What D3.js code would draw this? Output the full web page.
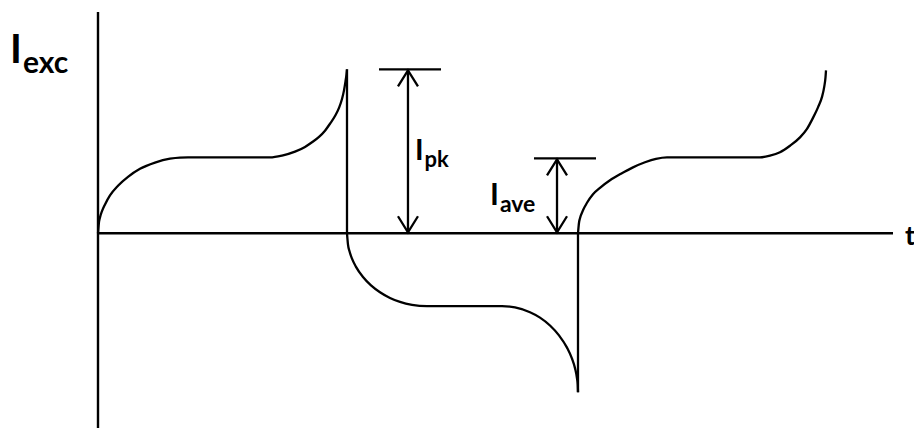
<!DOCTYPE html>
<html>
<head>
<meta charset="utf-8">
<script src="https://cdn.jsdelivr.net/npm/d3@7"></script>
<style>
  html, body { margin: 0; padding: 0; background: #fff; }
  svg { display: block; }
  text { font-family: Lato, "Open Sans", sans-serif; font-weight: bold; fill: #000; }
</style>
</head>
<body>
<div id="chart"></div>
<script>
// excitation current waveform (t in arbitrary units, I relative to peak)
const riseT = [0, 0.126, 0.252, 0.504, 0.882, 1.511, 2.519, 3.778, 5.29, 7.179, 9.068, 10.327, 11.335, 16.5, 21.662,
  23.174, 24.811, 26.071, 26.952, 27.834, 28.589, 29.219, 29.849, 30.353, 30.73, 30.982, 31.171, 31.297, 31.36];
const riseI = [0, 0.069, 0.097, 0.135, 0.176, 0.231, 0.29, 0.344, 0.393, 0.431, 0.455, 0.462, 0.463, 0.463, 0.463,
  0.474, 0.498, 0.527, 0.555, 0.588, 0.626, 0.668, 0.715, 0.765, 0.819, 0.872, 0.927, 0.97, 1.0];

const fallT = [31.36, 31.486, 31.675, 31.99, 32.494, 33.375, 34.383, 35.516, 36.776, 38.035, 39.547, 41.436, 46.159,
  50.882, 52.519, 54.408, 55.668, 56.927, 58.06, 59.068, 59.698, 60.076, 60.327, 60.416, 60.453];
const fallI = [0, -0.07, -0.11, -0.155, -0.205, -0.267, -0.318, -0.36, -0.395, -0.419, -0.437, -0.445, -0.445,
  -0.445, -0.453, -0.482, -0.515, -0.563, -0.623, -0.698, -0.765, -0.823, -0.885, -0.923, -0.97];

const rise2T = [60.453, 60.579, 60.705, 61.083, 61.587, 62.343, 63.224, 64.484, 65.869, 67.38, 68.892, 70.277, 71.662,
  77.519, 83.375, 84.635, 85.894, 87.154, 88.413, 89.295, 90.05, 90.68, 91.184, 91.474, 91.625, 91.688];
const rise2I = [0, 0.064, 0.092, 0.14, 0.186, 0.238, 0.277, 0.323, 0.363, 0.402, 0.433, 0.454, 0.463,
  0.463, 0.463, 0.473, 0.494, 0.534, 0.585, 0.637, 0.704, 0.768, 0.832, 0.896, 0.951, 0.994];

// dimension markers
const markerNames = ["pk", "ave"];
const markerT = [39.04, 57.81];
const markerTop = [1.0, 0.457];
const markerBarFrom = [35.39, 54.91];
const markerBarTo = [43.2, 62.72];

const width = 914, height = 428;
const x = d3.scaleLinear().domain([0, 100]).range([98, 892]);
const y = d3.scaleLinear().domain([-1.17, 1.35]).range([425, 12]);

const svg = d3.select("#chart").append("svg").attr("width", width).attr("height", height);
const ink = "#000";

// axes
svg.append("line")
  .attr("x1", x(0)).attr("x2", x(0)).attr("y1", y(1.35)).attr("y2", height)
  .attr("stroke", ink).attr("stroke-width", 2.4);
svg.append("line")
  .attr("x1", x(0)).attr("x2", x(100) + 1).attr("y1", y(0)).attr("y2", y(0))
  .attr("stroke", ink).attr("stroke-width", 2.4);

const line = d3.line().x((d) => x(d[0])).y((d) => y(d[1])).curve(d3.curveMonotoneX);
const segments = [
  d3.zip(riseT, riseI),
  d3.zip(fallT, fallI),
  d3.zip(rise2T, rise2I),
];
svg.append("g")
  .selectAll("path")
  .data(segments)
  .join("path")
  .attr("d", line)
  .attr("fill", "none")
  .attr("stroke", ink)
  .attr("stroke-width", 2.3)
  .attr("stroke-linejoin", "round");

// vertical switching edges
const edges = [
  [riseT[riseT.length - 1], riseI[riseI.length - 1], fallT[0], 0],
  [fallT[fallT.length - 1], fallI[fallI.length - 1], rise2T[0], 0],
];
svg.append("g")
  .selectAll("line")
  .data(edges)
  .join("line")
  .attr("x1", (d) => x(d[0])).attr("y1", (d) => y(d[1]))
  .attr("x2", (d) => x(d[2])).attr("y2", (d) => y(d[3]))
  .attr("stroke", ink).attr("stroke-width", 2.3);

// dimension arrows
const markers = markerNames.map((name, i) => ({
  name, t: markerT[i], top: markerTop[i], from: markerBarFrom[i], to: markerBarTo[i],
}));
const mg = svg.append("g").attr("stroke", ink).attr("stroke-width", 2.3).attr("fill", "none");
markers.forEach((m) => {
  const cx = x(m.t), yTop = y(m.top), yBot = y(0);
  mg.append("line").attr("x1", x(m.from)).attr("x2", x(m.to)).attr("y1", yTop).attr("y2", yTop);
  mg.append("line").attr("x1", cx).attr("x2", cx).attr("y1", yTop).attr("y2", yBot);
  mg.append("path").attr("d", `M${cx - 10},${yTop + 17}L${cx},${yTop + 1}L${cx + 10},${yTop + 17}`);
  mg.append("path").attr("d", `M${cx - 10},${yBot - 17}L${cx},${yBot - 1}L${cx + 10},${yBot - 17}`);
});

// labels
function subLabel(px, py, main, sub, mainSize, subSize, subDy) {
  const t = svg.append("text").attr("x", px).attr("y", py);
  t.append("tspan").attr("font-size", mainSize).text(main);
  t.append("tspan").attr("font-size", subSize).attr("dx", 1).attr("dy", subDy).text(sub);
}
subLabel(10, 63, "I", "exc", 40, 30, 10);
subLabel(415, 160, "I", "pk", 29, 22, 7);
subLabel(490, 205, "I", "ave", 30, 23, 7);

svg.append("text").attr("x", 905).attr("y", 245).attr("font-size", 27).text("t");
</script>
</body>
</html>
